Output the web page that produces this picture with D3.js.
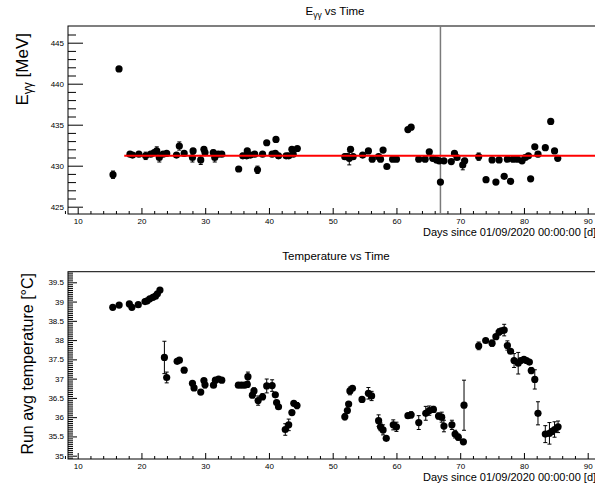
<html>
<style>
body { margin: 0; background: #fff; }
text { font-family: "Liberation Sans", Arial, sans-serif; fill: #000; }
.tick text { font-size: 8px; }
</style>
<body>
<script src="https://d3js.org/d3.v7.min.js"></script>
<script>

// E_gamma-gamma per run
var eDays = [15.54, 16.48, 18.2, 18.6, 19.6, 20.66, 21.45, 22.0, 22.4, 22.8, 23.4, 23.96, 25.5, 25.94, 26.7, 28.0, 28.1, 29.3, 29.8, 29.97,
  31.27, 31.5, 32.05, 32.6, 35.25, 35.9, 36.5, 36.6, 37.1, 37.76, 38.2, 39.0, 39.65, 40.5, 41.1, 41.0, 41.5, 42.7, 43.1, 43.6,
  43.8, 44.45, 51.9, 52.3, 52.6, 52.8, 53.2, 54.7, 55.6, 56.2, 57.2, 57.5, 57.9, 58.5, 59.4, 60.0, 61.8, 62.3, 63.5, 64.5,
  65.15, 65.7, 66.3, 66.7, 66.9, 67.45, 68.6, 69.1, 69.5, 70.4, 70.7, 72.9, 74.05, 75.0, 75.6, 76.1, 76.9, 77.4, 77.9, 78.3,
  78.96, 79.7, 80.2, 80.7, 81.05, 81.7, 82.2, 83.35, 84.2, 84.8, 85.3];
var eValues = [428.9, 441.8, 431.4, 431.3, 431.4, 431.2, 431.4, 431.6, 431.8, 431.0, 431.4, 431.5, 431.3, 432.4, 431.5, 431.0, 431.8, 430.7, 432.0, 431.6,
  431.6, 431.0, 431.4, 431.4, 429.6, 431.2, 431.2, 431.8, 431.3, 431.4, 429.5, 431.4, 432.8, 431.4, 433.2, 431.5, 431.2, 431.2, 431.2, 432.0,
  431.4, 432.1, 431.1, 431.1, 430.9, 432.0, 431.1, 431.3, 431.8, 430.8, 431.1, 430.8, 431.9, 429.9, 430.8, 430.8, 434.4, 434.7, 430.8, 430.8,
  431.7, 430.9, 430.7, 430.6, 428.0, 430.6, 430.5, 431.5, 431.0, 430.1, 430.6, 431.1, 428.3, 430.7, 428.0, 430.7, 428.7, 430.8, 428.1, 430.8,
  430.8, 430.6, 431.0, 431.2, 428.4, 432.3, 431.4, 432.2, 435.4, 431.8, 430.9];
var eErrors = [0.45, 0.2, 0.2, 0.2, 0.2, 0.45, 0.2, 0.2, 0.5, 0.55, 0.2, 0.2, 0.2, 0.5, 0.2, 0.55, 0.3, 0.55, 0.3, 0.3,
  0.3, 0.55, 0.2, 0.2, 0.2, 0.3, 0.3, 0.3, 0.2, 0.2, 0.45, 0.2, 0.2, 0.2, 0.2, 0.2, 0.3, 0.2, 0.2, 0.2,
  0.2, 0.2, 0.3, 0.3, 0.8, 0.3, 0.2, 0.2, 0.2, 0.2, 0.2, 0.2, 0.2, 0.2, 0.2, 0.2, 0.2, 0.2, 0.2, 0.2,
  0.2, 0.2, 0.2, 0.2, 0.2, 0.2, 0.2, 0.2, 0.2, 0.6, 0.3, 0.45, 0.2, 0.2, 0.2, 0.2, 0.2, 0.2, 0.2, 0.2,
  0.2, 0.2, 0.2, 0.2, 0.2, 0.2, 0.3, 0.2, 0.2, 0.2, 0.2];
var fitValue = 431.2, fitStart = 17.3, markerDay = 66.9;

// run averaged temperature
var tDays = [15.5, 16.5, 18.1, 18.5, 19.5, 20.56, 20.9, 21.3, 21.8, 22.2, 22.5, 22.9, 23.6, 23.96, 25.6, 25.95, 26.7, 28.0, 28.25, 29.3,
  29.8, 29.97, 31.3, 31.6, 32.1, 32.6, 35.2, 35.7, 36.2, 36.6, 36.7, 37.4, 37.65, 38.3, 39.0, 39.65, 40.5, 41.0, 41.2, 41.5,
  42.56, 43.1, 43.6, 43.9, 44.4, 51.9, 52.3, 52.5, 52.7, 53.1, 54.6, 55.6, 56.1, 57.2, 57.5, 57.9, 58.4, 59.5, 60.0, 61.8,
  62.3, 63.5, 64.6, 65.15, 65.8, 66.6, 67.1, 67.45, 68.7, 69.2, 69.7, 70.5, 70.6, 72.9, 74.0, 75.0, 75.6, 76.1, 76.45, 76.9,
  77.4, 77.9, 78.45, 79.1, 79.5, 80.0, 80.4, 80.85, 81.15, 81.7, 82.2, 83.35, 84.0, 84.4, 84.8, 85.35];
var tValues = [38.85, 38.91, 38.94, 38.85, 38.92, 39.0, 39.02, 39.07, 39.11, 39.14, 39.2, 39.3, 37.55, 37.03, 37.45, 37.48, 37.22, 36.88, 36.76, 36.65,
  36.95, 36.84, 36.83, 36.96, 36.99, 36.96, 36.83, 36.83, 36.83, 36.85, 37.05, 36.57, 36.68, 36.43, 36.53, 36.81, 36.82, 36.58, 36.38, 36.27,
  35.68, 35.8, 36.12, 36.36, 36.3, 36.01, 36.17, 36.34, 36.68, 36.75, 36.46, 36.62, 36.55, 35.91, 35.75, 35.67, 35.45, 35.8, 35.75, 36.04,
  36.06, 35.86, 36.1, 36.17, 36.2, 36.03, 36.0, 35.77, 35.8, 35.56, 35.48, 35.36, 36.31, 37.85, 37.99, 37.92, 38.09, 38.21, 38.24, 38.26,
  37.86, 37.71, 37.47, 37.4, 37.47, 37.5, 37.47, 37.43, 37.21, 36.98, 36.1, 35.56, 35.58, 35.63, 35.68, 35.75];
var tErrors = [0.02, 0.02, 0.02, 0.02, 0.02, 0.02, 0.02, 0.02, 0.02, 0.02, 0.02, 0.02, 0.42, 0.14, 0.02, 0.02, 0.02, 0.02, 0.02, 0.02,
  0.02, 0.08, 0.02, 0.02, 0.02, 0.02, 0.02, 0.02, 0.02, 0.02, 0.12, 0.02, 0.08, 0.12, 0.08, 0.18, 0.15, 0.05, 0.02, 0.02,
  0.15, 0.15, 0.05, 0.02, 0.08, 0.08, 0.02, 0.02, 0.1, 0.02, 0.02, 0.15, 0.12, 0.15, 0.1, 0.13, 0.02, 0.13, 0.12, 0.02,
  0.08, 0.18, 0.18, 0.12, 0.08, 0.08, 0.13, 0.15, 0.12, 0.1, 0.08, 0.02, 0.65, 0.1, 0.02, 0.08, 0.02, 0.08, 0.02, 0.15,
  0.12, 0.02, 0.18, 0.28, 0.02, 0.02, 0.02, 0.02, 0.08, 0.25, 0.3, 0.22, 0.28, 0.02, 0.2, 0.15];

var xMajor = [10, 20, 30, 40, 50, 60, 70, 80, 90];
var eMajor = [425, 430, 435, 440, 445];
var tMajor = [35, 35.5, 36, 36.5, 37, 37.5, 38, 38.5, 39, 39.5];

var width = 595, height = 485;
var svg = d3.select("body").append("svg")
    .attr("width", width)
    .attr("height", height);

var x = d3.scaleLinear().domain([10, 90]).range([77.7, 587.7]);
var frameL = 68, frameR = 604;

var yTop = d3.scaleLinear().domain([425, 445]).range([206.7, 42.7]);
var yBot = d3.scaleLinear().domain([35, 39.5]).range([455.7, 282.3]);

var xMinor = d3.range(8, 94, 2).filter(d => d % 10 != 0);

function panel(y, top, bottom, major, minor, majLen, minLen, fmt) {
  var g = svg.append("g");
  g.append("rect")
    .attr("x", frameL).attr("y", top)
    .attr("width", frameR - frameL).attr("height", bottom - top)
    .attr("fill", "none").attr("stroke", "#000").attr("stroke-width", 1);

  // y axis
  var ya = g.append("g").attr("transform", "translate(" + frameL + ",0)")
    .call(d3.axisLeft(y).tickValues(major).tickSize(-majLen).tickSizeOuter(0).tickPadding(4).tickFormat(fmt));
  ya.select(".domain").remove();
  var ym = g.append("g").attr("transform", "translate(" + frameL + ",0)")
    .call(d3.axisLeft(y).tickValues(minor).tickSize(-minLen).tickSizeOuter(0).tickFormat(""));
  ym.select(".domain").remove();

  // x axis
  var xa = g.append("g").attr("transform", "translate(0," + bottom + ")")
    .call(d3.axisBottom(x).tickValues(xMajor).tickSize(-6).tickSizeOuter(0).tickPadding(4).tickFormat(d3.format("d")));
  xa.select(".domain").remove();
  var xm = g.append("g").attr("transform", "translate(0," + bottom + ")")
    .call(d3.axisBottom(x).tickValues(xMinor).tickSize(-3).tickSizeOuter(0).tickFormat(""));
  xm.select(".domain").remove();
  g.selectAll(".tick line").attr("stroke", "#000");
  return g;
}

function points(g, days, vals, errs, y) {
  var data = days.map((d, i) => ({ d: d, v: vals[i], e: errs[i] }));
  var eb = g.append("g").attr("stroke", "#000").attr("stroke-width", 1);
  data.forEach(function (p) {
    var cx = x(p.d), y0 = y(p.v - p.e), y1 = y(p.v + p.e);
    eb.append("line").attr("x1", cx).attr("x2", cx).attr("y1", y0).attr("y2", y1);
    eb.append("line").attr("x1", cx - 2).attr("x2", cx + 2).attr("y1", y0).attr("y2", y0);
    eb.append("line").attr("x1", cx - 2).attr("x2", cx + 2).attr("y1", y1).attr("y2", y1);
  });
  g.append("g").selectAll("circle")
    .data(data)
    .enter().append("circle")
    .attr("cx", p => x(p.d))
    .attr("cy", p => y(p.v))
    .attr("r", 3.6)
    .attr("fill", "#000");
}

// top panel
var gTop = panel(yTop, 26, 214, eMajor, d3.range(424, 448, 1).filter(d => d % 5 != 0 && d > 424 && d < 447),
  15, 8, d3.format("d"));
gTop.append("line")
  .attr("x1", x(markerDay)).attr("x2", x(markerDay))
  .attr("y1", 26).attr("y2", 214)
  .attr("stroke", "#7a7a7a").attr("stroke-width", 1.5);
points(gTop, eDays, eValues, eErrors, yTop);
gTop.append("line")
  .attr("x1", x(fitStart)).attr("x2", frameR)
  .attr("y1", yTop(fitValue)).attr("y2", yTop(fitValue))
  .attr("stroke", "#ff0000").attr("stroke-width", 2);

// bottom panel
var tMinor = d3.range(0, 100).map(i => +(34.9 + i * 0.05).toFixed(2))
  .filter(d => d > 34.92 && d < 39.77 && Math.abs(d * 2 - Math.round(d * 2)) > 0.01);
var gBot = panel(yBot, 271.7, 459, tMajor, tMinor, 9, 5, d => String(d));
points(gBot, tDays, tValues, tErrors, yBot);

// titles
var t1 = svg.append("text").attr("x", 335).attr("y", 15)
  .attr("text-anchor", "middle").style("font-size", "11.5px");
t1.append("tspan").text("E");
t1.append("tspan").attr("dy", 3).style("font-size", "8.5px").text("γγ");
t1.append("tspan").attr("dy", -3).text(" vs Time");

svg.append("text").attr("x", 336).attr("y", 260)
  .attr("text-anchor", "middle").style("font-size", "11.5px")
  .text("Temperature vs Time");

var yt1 = svg.append("text")
  .attr("transform", "translate(28,33) rotate(-90)")
  .attr("text-anchor", "end").style("font-size", "17px");
yt1.append("tspan").text("E");
yt1.append("tspan").attr("dy", 4).style("font-size", "12px").text("γγ");
yt1.append("tspan").attr("dy", -4).text("  [MeV]");

svg.append("text")
  .attr("transform", "translate(33,273) rotate(-90)")
  .attr("text-anchor", "end").style("font-size", "16px")
  .text("Run avg temperature [°C]");

svg.append("text").attr("x", 423).attr("y", 236)
  .style("font-size", "11px")
  .text("Days since 01/09/2020 00:00:00 [d]");
svg.append("text").attr("x", 423).attr("y", 481)
  .style("font-size", "11px")
  .text("Days since 01/09/2020 00:00:00 [d]");
</script>
</body>
</html>
